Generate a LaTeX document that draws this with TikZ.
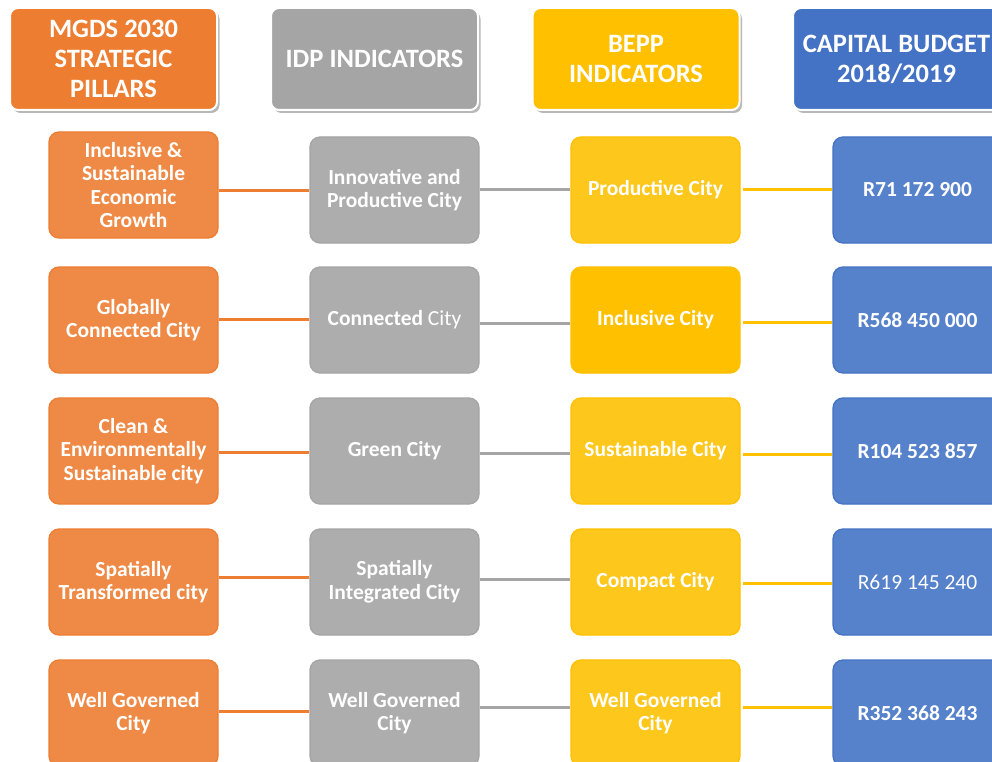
\documentclass[tikz,border=0pt]{standalone}
\usepackage{fontspec}
\setmainfont{Carlito}
\usetikzlibrary{shadows}
\definecolor{hOrange}{HTML}{ED7D31}
\definecolor{hGray}{HTML}{A5A5A5}
\definecolor{hYellow}{HTML}{FFC000}
\definecolor{hBlue}{HTML}{4472C4}
\definecolor{cOrange}{HTML}{EF8A46}
\definecolor{cGray}{HTML}{ADADAD}
\definecolor{cYellow}{HTML}{FDC71C}
\definecolor{cBlue}{HTML}{5681CB}
\tikzset{
  hdr/.style={rounded corners=8pt, draw=white, line width=2pt, minimum width=207pt,
    minimum height=102pt, align=center, text=white, inner sep=1pt,
    font=\fontsize{26.5}{30}\selectfont\bfseries,
    drop shadow={shadow xshift=2.5pt, shadow yshift=-3pt, fill=black, opacity=0.28}},
  cell/.style={rounded corners=10pt, line width=1.3pt, minimum width=169pt,
    minimum height=106pt, align=center, text=white, inner sep=1pt,
    font=\fontsize{21.5}{23.5}\selectfont\bfseries},
  ocell/.style={cell, fill=cOrange, draw=hOrange},
  gcell/.style={cell, fill=cGray, draw=hGray},
  ycell/.style={cell, fill=cYellow, draw=hYellow},
  bcell/.style={cell, fill=cBlue, draw=hBlue},
  link/.style={line width=3pt},
  olink/.style={link, draw=hOrange},
  glink/.style={link, draw=hGray},
  ylink/.style={link, draw=hYellow}
}
\begin{document}
\begin{tikzpicture}[x=1pt, y=-1pt]
\useasboundingbox (0,0) rectangle (992,762);
\fill[white] (0,0) rectangle (992,762);
\clip (0,0) rectangle (992,762);

% headers
\node[hdr, fill=hOrange] (h1) at (113.5,59) {MGDS 2030\\STRATEGIC\\PILLARS};
\node[hdr, fill=hGray]   (h2) at (374.5,59) {IDP INDICATORS};
\node[hdr, fill=hYellow] (h3) at (636,59)   {BEPP\\INDICATORS};
\node[hdr, fill=hBlue]   (h4) at (896.5,59) {CAPITAL BUDGET\\2018/2019};

% row 1
\node[ocell] (o1) at (133.5,185) {Inclusive \&\\Sustainable\\Economic\\Growth};
\node[gcell] (g1) at (394.5,190) {Innovative and\\Productive City};
\node[ycell] (y1) at (655.5,190) {Productive City};
\node[bcell] (b1) at (917.5,190) {R71 172 900};
% row 2
\node[ocell] (o2) at (133.5,320) {Globally\\Connected City};
\node[gcell] (g2) at (394.5,320) {Connected {\mdseries City}};
\node[ycell, fill=hYellow] (y2) at (655.5,320) {Inclusive City};
\node[bcell] (b2) at (917.5,320) {R568 450 000};
% row 3
\node[ocell] (o3) at (133.5,451) {Clean \&\\Environmentally\\Sustainable city};
\node[gcell] (g3) at (394.5,451) {Green City};
\node[ycell] (y3) at (655.5,451) {Sustainable City};
\node[bcell] (b3) at (917.5,451) {R104 523 857};
% row 4
\node[ocell] (o4) at (133.5,582) {Spatially\\Transformed city};
\node[gcell] (g4) at (394.5,582) {Spatially\\Integrated City};
\node[ycell] (y4) at (655.5,582) {Compact City};
\node[bcell] (b4) at (917.5,582) {\mdseries R619 145 240};
% row 5
\node[ocell] (o5) at (133.5,713) {Well Governed\\City};
\node[gcell] (g5) at (394.5,713) {Well Governed\\City};
\node[ycell] (y5) at (655.5,713) {Well Governed\\City};
\node[bcell] (b5) at (917.5,713) {R352 368 243};

% connectors
\draw[olink] (o1.east |- 0,190) -- (g1.west |- 0,190);
\draw[glink] (g1.east |- 0,189) -- (y1.west |- 0,189);
\draw[ylink] ([xshift=2pt]y1.east |- 0,189) -- (b1.west |- 0,189);

\draw[olink] (o2.east |- 0,319) -- (g2.west |- 0,319);
\draw[glink] (g2.east |- 0,323) -- (y2.west |- 0,323);
\draw[ylink] ([xshift=2pt]y2.east |- 0,322) -- (b2.west |- 0,322);

\draw[olink] (o3.east |- 0,452) -- (g3.west |- 0,452);
\draw[glink] (g3.east |- 0,453) -- (y3.west |- 0,453);
\draw[ylink] ([xshift=2pt]y3.east |- 0,454) -- (b3.west |- 0,454);

\draw[olink] (o4.east |- 0,577) -- (g4.west |- 0,577);
\draw[glink] (g4.east |- 0,579) -- (y4.west |- 0,579);
\draw[ylink] ([xshift=2pt]y4.east |- 0,583) -- (b4.west |- 0,583);

\draw[olink] (o5.east |- 0,711) -- (g5.west |- 0,711);
\draw[glink] (g5.east |- 0,707) -- (y5.west |- 0,707);
\draw[ylink] ([xshift=2pt]y5.east |- 0,707) -- (b5.west |- 0,707);
\end{tikzpicture}
\end{document}
